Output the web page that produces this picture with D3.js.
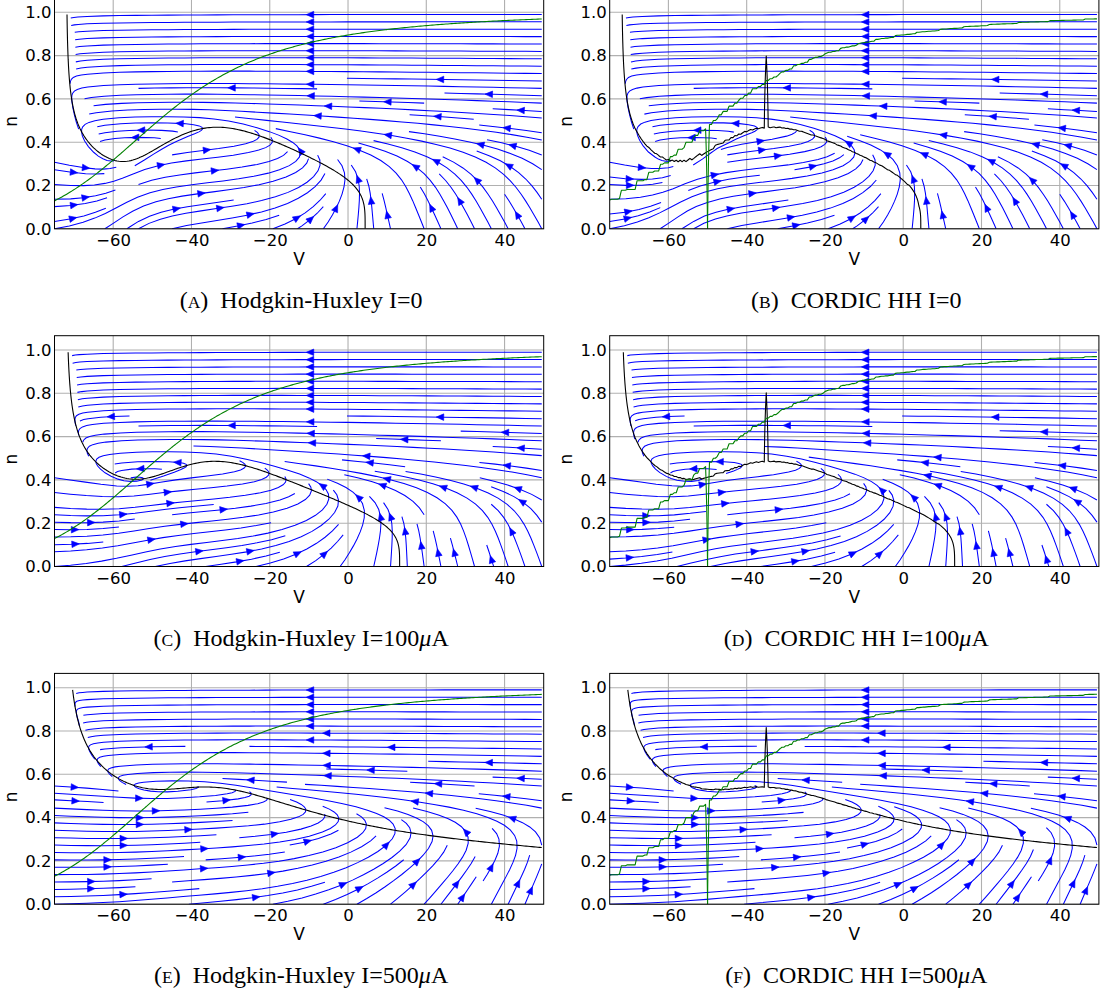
<!DOCTYPE html>
<html>
<head>
<meta charset="utf-8">
<script src="https://cdn.jsdelivr.net/npm/d3@7"></script>
<style>
  body { margin: 0; background: #fff; }
  svg { display: block; }
</style>
</head>
<body>
<div id="chart"></div>
<script>
// panels, in reading order
const panelLetters = ["A", "B", "C", "D", "E", "F"];
const panelModels = ["Hodgkin-Huxley", "CORDIC HH", "Hodgkin-Huxley", "CORDIC HH", "Hodgkin-Huxley", "CORDIC HH"];
const panelCordic = [false, true, false, true, false, true];
const currentLabels = ["0", "0", "100", "100", "500", "500"];
const currentUnits = ["", "", "μA", "μA", "μA", "μA"];
// injected current in model units (μA/cm²)
const currentValues = [0, 0, 10, 10, 50, 50];

// axes
const vTicks = [-60, -40, -20, 0, 20, 40];
const nTicks = [0, 0.2, 0.4, 0.6, 0.8, 1.0];
const vDomain = [-75, 50];
const nDomain = [0, 1.066];

// sampling grid of the phase plane (V in mV, n)
const gridV = d3.range(250).map(i => -75 + 0.5 * i);
const gridN = d3.range(100).map(j => j / 100);

// Hodgkin-Huxley parameters (resting potential -60 mV convention)
const gNa = 120, gK = 36, gL = 0.3;
const ENa = 55, EK = -72, EL = -49.387;
// fixed point resolution used to mimic the CORDIC unit
const cordicSteps = { an: 128, bn: 256, m: 128 };

const width = 1104, height = 991;
const colLeft = [54.5, 609.7];
const axW = 489.2;
const rowBottom = [228.8, 566.5, 904.2];
const axH = 230.8;
const captionY = [308, 645.7, 983.2];

const svg = d3.select("#chart").append("svg")
    .attr("width", width)
    .attr("height", height)
    .style("background", "#fff");
const defs = svg.append("defs");

function xexp(x, k) {
    return Math.abs(x) < 1e-9 ? k : x / (1 - Math.exp(-x / k));
}
const quant = (v, s) => Math.round(v * s) / s;

function rates(V, cordic, singular) {
    let an = 0.01 * xexp(V + 50, 10);
    let bn = 0.125 * Math.exp(-(V + 60) / 80);
    const am = 0.1 * xexp(V + 35, 10);
    const bm = 4 * Math.exp(-(V + 60) / 18);
    const ah = 0.07 * Math.exp(-(V + 60) / 20);
    const bh = 1 / (1 + Math.exp(-(V + 30) / 10));
    let m = am / (am + bm);
    const h = ah / (ah + bh);
    if (cordic) {
        an = quant(an, cordicSteps.an);
        bn = quant(bn, cordicSteps.bn);
        m = quant(m, cordicSteps.m);
        // 0/0 in the fixed point divider
        if (singular && V === -50) an = 0;
        if (singular && V === -35) m = 1;
    }
    return { an, bn, m, h };
}

function sampleField(I, cordic, singular) {
    const nx = gridV.length, ny = gridN.length;
    const dv = new Float64Array(nx * ny), dn = new Float64Array(nx * ny);
    gridV.forEach((V, i) => {
        const r = rates(V, cordic, singular);
        const ina = gNa * r.m ** 3 * r.h * (V - ENa);
        gridN.forEach((n, j) => {
            dv[j * nx + i] = I - ina - gK * n ** 4 * (V - EK) - gL * (V - EL);
            dn[j * nx + i] = r.an * (1 - n) - r.bn * n;
        });
    });
    return { dv, dn, nx, ny };
}

// marching squares, chained into polylines
function contourLines(vals, nx, ny) {
    const pts = new Map(), adj = new Map();
    const link = (a, b) => {
        if (!adj.has(a)) adj.set(a, []);
        if (!adj.has(b)) adj.set(b, []);
        adj.get(a).push(b); adj.get(b).push(a);
    };
    const cross = (id, xa, ya, fa, xb, yb, fb) => {
        if (!pts.has(id)) {
            const t = fa / (fa - fb);
            pts.set(id, [xa + (xb - xa) * t, ya + (yb - ya) * t]);
        }
        return id;
    };
    const eH = (i, j) => j * nx + i, eV = (i, j) => nx * ny + j * nx + i;
    for (let j = 0; j < ny - 1; j++) {
        for (let i = 0; i < nx - 1; i++) {
            const f00 = vals[j * nx + i], f10 = vals[j * nx + i + 1];
            const f01 = vals[(j + 1) * nx + i], f11 = vals[(j + 1) * nx + i + 1];
            const s00 = f00 > 0, s10 = f10 > 0, s01 = f01 > 0, s11 = f11 > 0;
            const x0 = gridV[i], x1 = gridV[i + 1], y0 = gridN[j], y1 = gridN[j + 1];
            const e = [];
            if (s00 !== s10) e.push(cross(eH(i, j), x0, y0, f00, x1, y0, f10));
            if (s10 !== s11) e.push(cross(eV(i + 1, j), x1, y0, f10, x1, y1, f11));
            if (s01 !== s11) e.push(cross(eH(i, j + 1), x0, y1, f01, x1, y1, f11));
            if (s00 !== s01) e.push(cross(eV(i, j), x0, y0, f00, x0, y1, f01));
            if (e.length === 2) link(e[0], e[1]);
            else if (e.length === 4) {
                const c = (f00 + f10 + f01 + f11) / 4 > 0;
                if (c === s00) { link(e[0], e[1]); link(e[2], e[3]); }
                else { link(e[0], e[3]); link(e[1], e[2]); }
            }
        }
    }
    const seen = new Set(), lines = [];
    const walk = start => {
        const line = [start];
        seen.add(start);
        let cur = start;
        while (true) {
            const nb = adj.get(cur).find(q => !seen.has(q));
            if (nb === undefined) break;
            seen.add(nb); line.push(nb); cur = nb;
        }
        return line;
    };
    for (const [id, nb] of adj) if (nb.length === 1 && !seen.has(id)) lines.push(walk(id));
    for (const id of adj.keys()) if (!seen.has(id)) { const l = walk(id); l.push(l[0]); lines.push(l); }
    return lines.map(l => l.map(id => pts.get(id)));
}

// streamlines, following matplotlib's streamplot (density 1)
function pyRound(x) {
    const r = Math.round(x);
    if (Math.abs(x % 1) === 0.5) return 2 * Math.round(x / 2);
    return r;
}
function streamlines(field) {
    const { dv, dn, nx, ny } = field;
    const dx = gridV[1] - gridV[0], dy = gridN[1] - gridN[0];
    const U = new Float64Array(nx * ny), W = new Float64Array(nx * ny), S = new Float64Array(nx * ny);
    for (let k = 0; k < nx * ny; k++) {
        U[k] = dv[k] / dx; W[k] = dn[k] / dy;
        S[k] = Math.hypot(U[k] / (nx - 1), W[k] / (ny - 1));
    }
    const interp = (a, xi, yi) => {
        const x = Math.floor(xi), y = Math.floor(yi);
        const xn = x === nx - 1 ? x : x + 1, yn = y === ny - 1 ? y : y + 1;
        const xt = xi - x, yt = yi - y;
        const a0 = a[y * nx + x] * (1 - xt) + a[y * nx + xn] * xt;
        const a1 = a[yn * nx + x] * (1 - xt) + a[yn * nx + xn] * xt;
        return a0 * (1 - yt) + a1 * yt;
    };
    const within = (xi, yi) => xi >= 0 && xi <= nx - 1 && yi >= 0 && yi <= ny - 1;
    const OOB = "oob", TERM = "term", INVALID = "invalid";

    const mnx = 30, mny = 30;
    const mask = new Uint8Array(mnx * mny);
    let traj = [], current = null;
    const gx2m = (mnx - 1) / (nx - 1), gy2m = (mny - 1) / (ny - 1);
    const grid2mask = (xi, yi) => [pyRound(xi * gx2m), pyRound(yi * gy2m)];
    const updateMask = (xm, ym) => {
        if (!current || current[0] !== xm || current[1] !== ym) {
            if (mask[ym * mnx + xm] === 0) {
                traj.push(ym * mnx + xm);
                mask[ym * mnx + xm] = 1;
                current = [xm, ym];
            } else throw INVALID;
        }
    };
    const updateTrajectory = (xi, yi) => {
        if (!within(xi, yi)) throw INVALID;
        const [xm, ym] = grid2mask(xi, yi);
        updateMask(xm, ym);
    };

    const forward = (xi, yi, sgn) => {
        if (!within(xi, yi)) throw OOB;
        const s = interp(S, xi, yi);
        if (s === 0) throw TERM;
        return [sgn * interp(U, xi, yi) / s, sgn * interp(W, xi, yi) / s];
    };

    const eulerStep = (xy, sgn) => {
        const [xi, yi] = xy[xy.length - 1];
        const [cx, cy] = forward(xi, yi, sgn);
        const dsx = cx === 0 ? Infinity : cx < 0 ? xi / -cx : (nx - 1 - xi) / cx;
        const dsy = cy === 0 ? Infinity : cy < 0 ? yi / -cy : (ny - 1 - yi) / cy;
        const ds = Math.min(dsx, dsy);
        xy.push([xi + cx * ds, yi + cy * ds]);
        return ds;
    };

    const rk12 = (x0, y0, sgn) => {
        const maxerror = 0.003, maxds = Math.min(1 / mnx, 1 / mny, 0.1), maxlength = 4;
        let ds = maxds, stotal = 0, xi = x0, yi = y0;
        const xy = [];
        while (true) {
            let k1, k2;
            try {
                if (within(xi, yi)) xy.push([xi, yi]); else throw OOB;
                k1 = forward(xi, yi, sgn);
                k2 = forward(xi + ds * k1[0], yi + ds * k1[1], sgn);
            } catch (e) {
                if (e === OOB) {
                    if (xy.length) { try { stotal += eulerStep(xy, sgn); } catch (e2) { } }
                    break;
                }
                if (e === TERM) break;
                throw e;
            }
            const dx1 = ds * k1[0], dy1 = ds * k1[1];
            const dx2 = ds * 0.5 * (k1[0] + k2[0]), dy2 = ds * 0.5 * (k1[1] + k2[1]);
            const error = Math.hypot((dx2 - dx1) / (nx - 1), (dy2 - dy1) / (ny - 1));
            if (error < maxerror) {
                xi += dx2; yi += dy2;
                try { updateTrajectory(xi, yi); } catch (e) { if (e === INVALID) break; throw e; }
                if (stotal + ds > maxlength) break;
                stotal += ds;
            }
            ds = error === 0 ? maxds : Math.min(maxds, 0.85 * ds * Math.sqrt(maxerror / error));
        }
        return [stotal, xy];
    };

    const integrate = (x0, y0) => {
        traj = [];
        try {
            const [xm, ym] = grid2mask(x0, y0);
            updateMask(xm, ym);
        } catch (e) { return null; }
        let stotal = 0;
        const [s1, back] = rk12(x0, y0, -1);
        stotal += s1;
        const path = back.reverse();
        current = grid2mask(x0, y0);
        const [s2, fwd] = rk12(x0, y0, 1);
        stotal += s2;
        path.push(...fwd.slice(1));
        if (stotal > 0.1) return path;
        for (const t of traj) mask[t] = 0;
        return null;
    };

    // spiral of start points
    const starts = [];
    {
        let xfirst = 0, yfirst = 1, xlast = mnx - 1, ylast = mny - 1, x = 0, y = 0, dir = "right";
        for (let i = 0; i < mnx * mny; i++) {
            starts.push([x, y]);
            if (dir === "right") { x += 1; if (x >= xlast) { xlast -= 1; dir = "up"; } }
            else if (dir === "up") { y += 1; if (y >= ylast) { ylast -= 1; dir = "left"; } }
            else if (dir === "left") { x -= 1; if (x <= xfirst) { xfirst += 1; dir = "down"; } }
            else { y -= 1; if (y <= yfirst) { yfirst += 1; dir = "right"; } }
        }
    }
    const out = [];
    for (const [xm, ym] of starts) {
        if (mask[ym * mnx + xm] !== 0) continue;
        const t = integrate(xm / gx2m, ym / gy2m);
        if (t) out.push(t.map(([xi, yi]) => [gridV[0] + xi * dx, gridN[0] + yi * dy]));
    }
    return out;
}

panelLetters.forEach((letter, k) => {
    const col = k % 2, row = Math.floor(k / 2);
    const left = colLeft[col], bottom = rowBottom[row];
    const x = d3.scaleLinear().domain(vDomain).range([left, left + axW]);
    const y = d3.scaleLinear().domain(nDomain).range([bottom, bottom - axH]);

    defs.append("clipPath").attr("id", "clip" + k)
        .append("rect")
        .attr("x", left).attr("y", bottom - axH)
        .attr("width", axW).attr("height", axH);

    const g = svg.append("g");

    // grid
    g.append("g").selectAll("line").data(vTicks).join("line")
        .attr("x1", d => x(d)).attr("x2", d => x(d))
        .attr("y1", bottom).attr("y2", bottom - axH)
        .attr("stroke", "#b0b0b0").attr("stroke-width", 1.1);
    g.append("g").selectAll("line").data(nTicks).join("line")
        .attr("x1", left).attr("x2", left + axW)
        .attr("y1", d => y(d)).attr("y2", d => y(d))
        .attr("stroke", "#b0b0b0").attr("stroke-width", 1.1);

    const plot = g.append("g").attr("clip-path", `url(#clip${k})`);
    const line = d3.line().x(d => x(d[0])).y(d => y(d[1]));

    // streamlines
    const streamField = sampleField(currentValues[k], panelCordic[k], false);
    const lines = streamlines(streamField);
    plot.append("g").selectAll("path").data(lines).join("path")
        .attr("d", line)
        .attr("fill", "none")
        .attr("stroke", "#0000ff")
        .attr("stroke-width", 1.05);

    // arrows at half length of each streamline
    const arrows = lines.map(t => {
        const s = [];
        let acc = 0;
        for (let i = 1; i < t.length; i++) {
            acc += Math.hypot(t[i][0] - t[i - 1][0], t[i][1] - t[i - 1][1]);
            s.push(acc);
        }
        const half = s[s.length - 1] / 2;
        let n = s.findIndex(v => v >= half);
        if (n < 0) n = s.length - 1;
        const tail = t[n];
        const nxt = t[Math.min(n + 1, t.length - 1)];
        const head = [(tail[0] + nxt[0]) / 2, (tail[1] + nxt[1]) / 2];
        return { tail, head };
    });
    plot.append("g").selectAll("path").data(arrows).join("path")
        .attr("d", a => {
            const hx = x(a.head[0]), hy = y(a.head[1]);
            let ux = hx - x(a.tail[0]), uy = hy - y(a.tail[1]);
            const len = Math.hypot(ux, uy) || 1;
            ux /= len; uy /= len;
            const L = 7.5, w = 3.3;
            const bx = hx - ux * L, by = hy - uy * L;
            return `M${hx},${hy}L${bx - uy * w},${by + ux * w}L${bx + uy * w},${by - ux * w}Z`;
        })
        .attr("fill", "#0000ff")
        .attr("stroke", "#0000ff")
        .attr("stroke-width", 0.6);

    // nullclines
    const cField = sampleField(currentValues[k], panelCordic[k], true);
    const vNull = contourLines(cField.dv, cField.nx, cField.ny);
    const nNull = contourLines(cField.dn, cField.nx, cField.ny);
    plot.append("g").selectAll("path").data(vNull).join("path")
        .attr("d", line).attr("fill", "none")
        .attr("stroke", "#000").attr("stroke-width", 1.1)
        .attr("stroke-linejoin", "round");
    plot.append("g").selectAll("path").data(nNull).join("path")
        .attr("d", line).attr("fill", "none")
        .attr("stroke", "#008000").attr("stroke-width", 1.1)
        .attr("stroke-linejoin", "round");

    // frame
    g.append("rect")
        .attr("x", left).attr("y", bottom - axH)
        .attr("width", axW).attr("height", axH)
        .attr("fill", "none").attr("stroke", "#000").attr("stroke-width", 1);

    // axes
    const xAxis = g.append("g")
        .attr("transform", `translate(0,${bottom})`)
        .call(d3.axisBottom(x).tickValues(vTicks).tickSize(0).tickPadding(5.5).tickFormat(d3.format("d")));
    const yAxis = g.append("g")
        .attr("transform", `translate(${left},0)`)
        .call(d3.axisLeft(y).tickValues(nTicks).tickSize(0).tickPadding(3).tickFormat(d3.format(".1f")));
    [xAxis, yAxis].forEach(a => {
        a.select(".domain").remove();
        a.selectAll("text")
            .style("font-family", "'DejaVu Sans', sans-serif")
            .style("font-size", "16.5px")
            .attr("fill", "#000");
    });

    g.append("text")
        .attr("x", left + axW / 2).attr("y", bottom + 36)
        .attr("text-anchor", "middle")
        .style("font-family", "'DejaVu Sans', sans-serif")
        .style("font-size", "17px")
        .text("V");
    g.append("text")
        .attr("transform", `translate(${left - 38},${bottom - axH / 2 + 8}) rotate(-90)`)
        .attr("text-anchor", "middle")
        .style("font-family", "'DejaVu Sans', sans-serif")
        .style("font-size", "17px")
        .text("n");

    // caption
    const cap = g.append("text")
        .attr("x", left + axW / 2 + 2).attr("y", captionY[row])
        .attr("text-anchor", "middle")
        .style("font-family", "'Liberation Serif', 'Times New Roman', serif")
        .style("font-size", "24px")
        .attr("fill", "#000");
    cap.append("tspan").text("(");
    cap.append("tspan").style("font-size", "17.5px").text(letter);
    cap.append("tspan").text(")\u2002" + panelModels[k] + " I=" + currentLabels[k]);
    if (currentUnits[k]) {
        cap.append("tspan").style("font-style", "italic").text(currentUnits[k][0]);
        cap.append("tspan").text(currentUnits[k].slice(1));
    }
});
</script>
</body>
</html>
